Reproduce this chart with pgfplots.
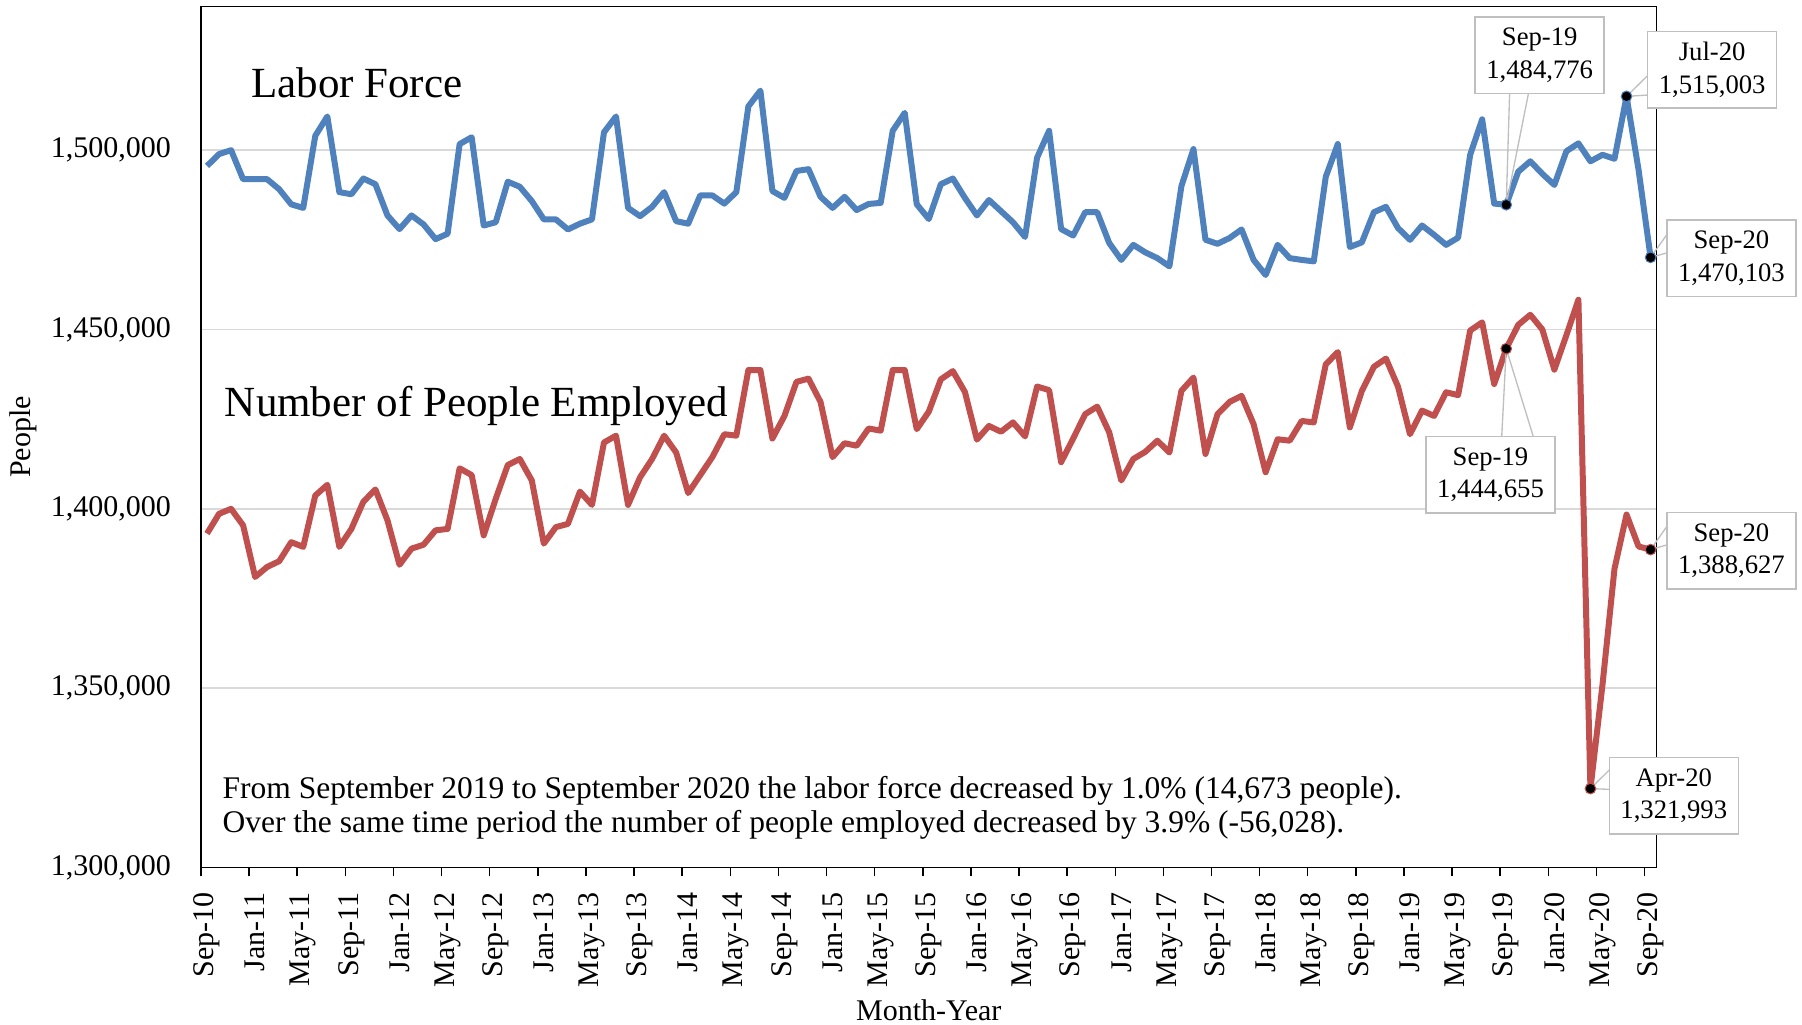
\documentclass[border=0pt]{standalone}
\usepackage{fontspec}
\setmainfont{Liberation Serif}
\usepackage{pgfplots}
\usepackage{pgfplotstable}
\pgfplotsset{compat=1.18}
\definecolor{lfblue}{HTML}{4F81BD}
\definecolor{emred}{HTML}{C0504D}
\definecolor{gridgray}{HTML}{D9D9D9}
\definecolor{boxgray}{HTML}{BFBFBF}

\pgfplotstableread{
i lf
0 1495600
1 1498900
2 1500000
3 1491900
4 1491900
5 1491900
6 1489100
7 1484900
8 1483900
9 1504000
10 1509400
11 1488300
12 1487700
13 1492100
14 1490500
15 1481800
16 1478000
17 1481800
18 1479300
19 1475200
20 1476700
21 1501700
22 1503600
23 1479000
24 1479900
25 1491200
26 1489800
27 1485800
28 1480700
29 1480700
30 1477900
31 1479500
32 1480700
33 1505000
34 1509400
35 1483900
36 1481600
37 1484200
38 1488300
39 1480200
40 1479500
41 1487400
42 1487400
43 1485100
44 1488300
45 1512200
46 1516600
47 1488600
48 1486700
49 1494200
50 1494700
51 1487000
52 1483900
53 1487000
54 1483300
55 1485000
56 1485300
57 1505400
58 1510400
59 1484900
60 1480800
61 1490500
62 1492100
63 1486700
64 1481800
65 1486100
66 1483000
67 1479900
68 1475800
69 1497900
70 1505400
71 1478000
72 1476200
73 1482700
74 1482700
75 1474100
76 1469400
77 1473600
78 1471500
79 1469900
80 1467600
81 1490000
82 1500300
83 1475000
84 1473900
85 1475500
86 1477900
87 1469400
88 1465200
89 1473600
90 1469900
91 1469400
92 1469000
93 1492600
94 1501700
95 1473000
96 1474300
97 1482700
98 1484200
99 1478300
100 1475000
101 1479000
102 1476400
103 1473600
104 1475600
105 1498700
106 1508600
107 1485100
108 1484776
109 1494000
110 1496900
111 1493400
112 1490300
113 1499700
114 1501900
115 1496900
116 1498700
117 1497600
118 1515003
119 1494500
120 1470103
}\lfdata

\pgfplotstableread{
i em
0 1393100
1 1398600
2 1400000
3 1395400
4 1381000
5 1383800
6 1385400
7 1390700
8 1389400
9 1403700
10 1406700
11 1389400
12 1394400
13 1402000
14 1405400
15 1396800
16 1384400
17 1388900
18 1390000
19 1394000
20 1394400
21 1411300
22 1409400
23 1392600
24 1402800
25 1412200
26 1413900
27 1407900
28 1390300
29 1394900
30 1395800
31 1404800
32 1401100
33 1418500
34 1420400
35 1401100
36 1408800
37 1413900
38 1420400
39 1415700
40 1404400
41 1409400
42 1414400
43 1420800
44 1420400
45 1438700
46 1438700
47 1419600
48 1425900
49 1435400
50 1436300
51 1429800
52 1414400
53 1418300
54 1417600
55 1422400
56 1421800
57 1438700
58 1438700
59 1422200
60 1427100
61 1436100
62 1438400
63 1432600
64 1419300
65 1423100
66 1421500
67 1424100
68 1420200
69 1434100
70 1433100
71 1413000
72 1419600
73 1426400
74 1428500
75 1421300
76 1407900
77 1413900
78 1415900
79 1419000
80 1415700
81 1432900
82 1436600
83 1415300
84 1426400
85 1429800
86 1431500
87 1423600
88 1410200
89 1419400
90 1419000
91 1424500
92 1424100
93 1440300
94 1443700
95 1422700
96 1432900
97 1439600
98 1441900
99 1434100
100 1420800
101 1427400
102 1425900
103 1432500
104 1431700
105 1449700
106 1452000
107 1434800
108 1444655
109 1451300
110 1454100
111 1450000
112 1438800
113 1448400
114 1458300
115 1321993
116 1350900
117 1383300
118 1398400
119 1389500
120 1388627
}\emdata

\newcommand{\axfont}{\fontsize{9pt}{10.8pt}\selectfont}
\newcommand{\boxfont}{\fontsize{8pt}{9.8pt}\selectfont}
\tikzset{
  callout/.style={draw=boxgray, fill=white, line width=0.45pt, inner sep=0pt,
    minimum width=38.7pt, minimum height=23pt, align=center, font=\boxfont, text=black},
  leader/.style={boxgray, line width=0.4pt},
}

\begin{document}
\begin{tikzpicture}
\path[use as bounding box] (-60.3pt,-47.25pt) rectangle (480.3pt,260.25pt);
\begin{axis}[
  at={(0pt,0pt)}, anchor=south west,
  scale only axis, width=436.68pt, height=258.24pt,
  xmin=-0.5, xmax=120.5, ymin=1300000, ymax=1540000,
  clip=false,
  axis line style={black, line width=0.45pt},
  xtick={0,4,...,120},
  xticklabels={Sep-10,Jan-11,May-11,Sep-11,Jan-12,May-12,Sep-12,Jan-13,May-13,Sep-13,Jan-14,May-14,Sep-14,Jan-15,May-15,Sep-15,Jan-16,May-16,Sep-16,Jan-17,May-17,Sep-17,Jan-18,May-18,Sep-18,Jan-19,May-19,Sep-19,Jan-20,May-20,Sep-20},
  minor xtick={-0.5,3.5,...,119.5},
  major tick length=0pt,
  minor tick length=2.7pt,
  tick align=outside,
  xtick pos=bottom, ytick pos=left,
  ytick={1300000,1350000,1400000,1450000,1500000},
  yticklabels={{1,300,000},{1,350,000},{1,400,000},{1,450,000},{1,500,000}},
  ymajorgrids,
  major grid style={gridgray, line width=0.45pt},
  minor tick style={black, line width=0.45pt},
  /pgf/number format/assume math mode=true,
  xticklabel style={font=\axfont, inner sep=0pt, yshift=-7.2pt, rotate=90, anchor=east},
  yticklabel style={font=\axfont, inner sep=0pt, anchor=east, xshift=-8.8pt},
  xlabel={Month-Year}, ylabel={People},
  xlabel style={at={(axis description cs:0.5,-0.1655)}, anchor=center, font=\axfont},
  ylabel style={at={(axis description cs:-0.1223,0.5)}, anchor=center, font=\axfont},
]
\addplot[lfblue, line width=1.8pt, line join=round, mark=none] table[x=i, y=lf] {\lfdata};
\addplot[emred, line width=1.8pt, line join=round, mark=none] table[x=i, y=em] {\emdata};

% leader lines
\draw[leader] (rel axis cs:0.8990,0.8986) -- (axis cs:108,1484776) -- (rel axis cs:0.9119,0.8986);
\draw[leader] (rel axis cs:0.9943,0.9207) -- (axis cs:118,1515003) -- (rel axis cs:0.9943,0.8974);
\draw[leader] (rel axis cs:1.0069,0.7348) -- (axis cs:120,1470103) -- (rel axis cs:1.0069,0.7139);
\draw[leader] (rel axis cs:0.8936,0.5005) -- (axis cs:108,1444655) -- (rel axis cs:0.9153,0.5005);
\draw[leader] (rel axis cs:1.0069,0.3959) -- (axis cs:120,1388627) -- (rel axis cs:1.0069,0.3747);
\draw[leader] (rel axis cs:0.9675,0.1133) -- (axis cs:115,1321993) -- (rel axis cs:0.9675,0.0908);

% markers
\addplot[only marks, mark=*, mark size=1.6pt, mark options={fill=black, draw=lfblue, line width=0.3pt}]
  coordinates {(108,1484776) (118,1515003) (120,1470103)};
\addplot[only marks, mark=*, mark size=1.6pt, mark options={fill=black, draw=emred, line width=0.3pt}]
  coordinates {(108,1444655) (115,1321993) (120,1388627)};

% callout boxes
\node[callout] at (rel axis cs:0.9197,0.9434) {Sep-19\\1,484,776};
\node[callout] at (rel axis cs:1.0382,0.9267) {Jul-20\\1,515,003};
\node[callout] at (rel axis cs:1.0514,0.7076) {Sep-20\\1,470,103};
\node[callout] at (rel axis cs:0.8859,0.4563) {Sep-19\\1,444,655};
\node[callout] at (rel axis cs:1.0514,0.3679) {Sep-20\\1,388,627};
\node[callout] at (rel axis cs:1.0118,0.0834) {Apr-20\\1,321,993};

% titles
\node[anchor=base west, inner sep=0pt, font=\fontsize{12.9pt}{15pt}\selectfont] at (rel axis cs:0.034,0.8943) {Labor Force};
\node[anchor=base west, inner sep=0pt, font=\fontsize{12.9pt}{15pt}\selectfont] at (rel axis cs:0.016,0.5237) {Number of People Employed};

% note
\node[anchor=base west, inner sep=0pt, font=\fontsize{9.45pt}{11pt}\selectfont] at (rel axis cs:0.0144,0.0796) {From September 2019 to September 2020 the labor force decreased by 1.0\% (14,673 people).};
\node[anchor=base west, inner sep=0pt, font=\fontsize{9.45pt}{11pt}\selectfont] at (rel axis cs:0.0144,0.0401) {Over the same time period the number of people employed decreased by 3.9\% (-56,028).};
\end{axis}
\end{tikzpicture}
\end{document}
